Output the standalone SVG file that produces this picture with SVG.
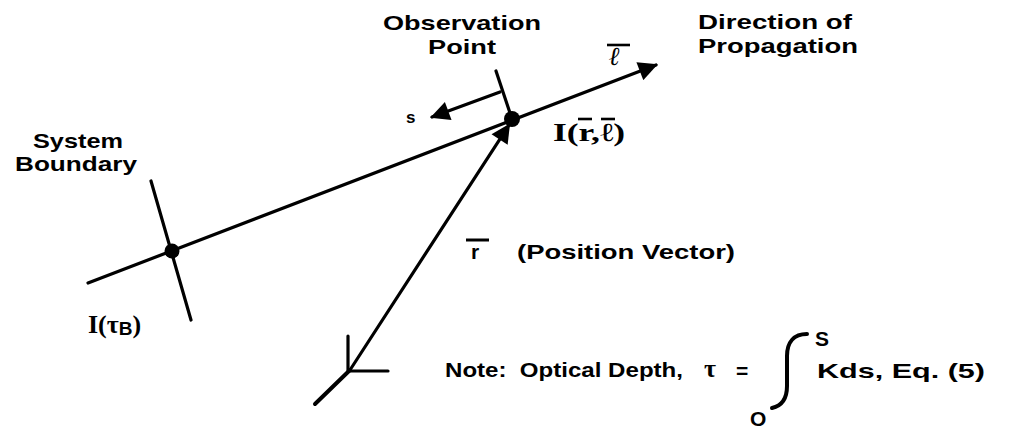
<svg xmlns="http://www.w3.org/2000/svg" width="1024" height="432" viewBox="0 0 1024 432">
<style>
.ln{stroke:#000;stroke-width:3.2;fill:none;stroke-linecap:round}
.lb{font-family:"Liberation Sans",Arial,sans-serif;font-weight:bold;font-size:21px;fill:#000}
.sf{font-family:"Liberation Serif",serif;font-weight:bold;font-size:26px;fill:#000}
.bar{stroke:#000;stroke-width:2.6;fill:none}
</style>
<defs>
<marker id="ah" viewBox="0 0 10 10" refX="9" refY="5" markerWidth="7" markerHeight="6" orient="auto" markerUnits="strokeWidth">
<path d="M0 0 L10 5 L0 10 Z" fill="#000"/>
</marker>
</defs>
<rect width="1024" height="432" fill="#fff"/>
<g id="connectors">
<line class="ln" x1="88" y1="283" x2="656" y2="65" marker-end="url(#ah)"/>
<line class="ln" x1="151" y1="181" x2="191" y2="320"/>
<line class="ln" x1="496" y1="71" x2="512" y2="119"/>
<line class="ln" x1="500" y1="92" x2="432" y2="117" marker-end="url(#ah)"/>
<line class="ln" x1="350" y1="370" x2="509" y2="125" marker-end="url(#ah)"/>
<line class="ln" x1="350" y1="370" x2="315" y2="404" style="stroke-width:4"/>
<line class="ln" x1="348" y1="336" x2="348" y2="371"/>
<line class="ln" x1="349" y1="371" x2="388" y2="371"/>
</g>
<g id="boundary-point"><circle cx="172" cy="251" r="7.5" fill="#000"/></g>
<g id="observation-point"><circle cx="512" cy="119" r="8" fill="#000"/></g>
<g id="label-observation">
<text class="lb" x="462" y="30" text-anchor="middle" textLength="158" lengthAdjust="spacingAndGlyphs">Observation</text>
<text class="lb" x="462" y="54" text-anchor="middle" textLength="68" lengthAdjust="spacingAndGlyphs">Point</text>
</g>
<g id="label-direction">
<text class="lb" x="698" y="29" textLength="154" lengthAdjust="spacingAndGlyphs">Direction of</text>
<text class="lb" x="698" y="53" textLength="160" lengthAdjust="spacingAndGlyphs">Propagation</text>
<text x="609" y="65" style="font-family:'Liberation Serif',serif;font-style:italic;font-weight:bold;font-size:26px">ℓ</text>
<line class="bar" x1="607" y1="45" x2="630" y2="45"/>
</g>
<g id="label-system">
<text class="lb" x="78" y="148" text-anchor="middle" textLength="90" lengthAdjust="spacingAndGlyphs">System</text>
<text class="lb" x="76" y="171" text-anchor="middle" textLength="122" lengthAdjust="spacingAndGlyphs">Boundary</text>
</g>
<g id="label-s"><text class="lb" x="406" y="123" style="font-size:17px">s</text></g>
<g id="label-intensity">
<text class="sf" x="553" y="141" textLength="72" lengthAdjust="spacingAndGlyphs">I(r,ℓ)</text>
<line class="bar" x1="578" y1="119" x2="592" y2="119"/>
<line class="bar" x1="601" y1="119" x2="615" y2="119"/>
</g>
<g id="label-position">
<text class="lb" x="471" y="259">r</text>
<line class="bar" x1="466" y1="240" x2="489" y2="240" style="stroke-width:3"/>
<text class="lb" x="517" y="259" textLength="218" lengthAdjust="spacingAndGlyphs">(Position Vector)</text>
</g>
<g id="label-boundary-intensity">
<text class="sf" x="88" y="333">I(τ<tspan style="font-family:'Liberation Sans',sans-serif;font-size:19px" dy="2">B</tspan><tspan dy="-2">)</tspan></text>
</g>
<g id="note">
<text class="lb" x="445" y="377" textLength="238" lengthAdjust="spacingAndGlyphs">Note:&#160; Optical Depth,</text>
<text class="sf" x="704" y="377">τ</text>
<text class="lb" x="736" y="378">=</text>
<path class="ln" d="M807 334 C794 334 787 342 787 356 L787 386 C787 400 781 406 772 408" style="stroke-width:4"/>
<text class="lb" x="815" y="346">S</text>
<text class="lb" x="750" y="426">O</text>
<text class="lb" x="817" y="378" textLength="168" lengthAdjust="spacingAndGlyphs">Kds, Eq. (5)</text>
</g>
</svg>
